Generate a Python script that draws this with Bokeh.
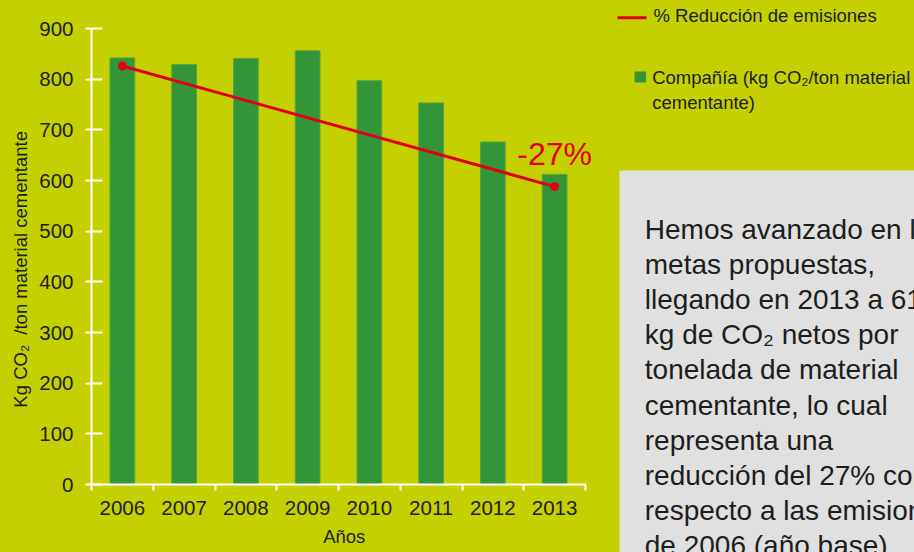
from bokeh.plotting import figure
from bokeh.models import Range1d, FixedTicker, Label, ColumnDataSource
from bokeh.layouts import row
from bokeh.embed import file_html
from bokeh.resources import INLINE
from bokeh.core.properties import value

# ---------------- data ----------------
years = [2006, 2007, 2008, 2009, 2010, 2011, 2012, 2013]
emissions = [842, 829, 841, 856, 797, 753, 676, 612]
trend_years = [2006, 2013]
trend_values = [826, 588]
y_ticks = [0, 100, 200, 300, 400, 500, 600, 700, 800, 900]
reduction_label = "-27%"
legend_line_label = "% Reducción de emisiones"
legend_bar_label = ["Compañía (kg CO₂/ton material", "cementante)"]
note_lines = [
    "Hemos avanzado en las",
    "metas propuestas,",
    "llegando en 2013 a 612",
    "kg de CO₂ netos por",
    "tonelada de material",
    "cementante, lo cual",
    "representa una",
    "reducción del 27% con",
    "respecto a las emisiones",
    "de 2006 (año base).",
]
x_title = "Años"
y_title = "Kg CO₂\u00a0\u00a0/ton material cementante"

# ---------------- style ----------------
BG = "#c4d000"
GREEN = "#329639"
RED = "#e2001a"
GREY = "#e0e0e0"
INK = "#1d1d1b"
FONT = "Liberation Sans"
NBSP = "\u00a0"

W, H = 914, 552
LEFT_W = 612
RIGHT_W = W - LEFT_W

AXIS_X = 91
FRAME_TOP = 28
FRAME_BOTTOM = 484
CAT_PX = 61.75                       # pixels per year
frame_w = LEFT_W - AXIS_X

p = figure(
    width=LEFT_W, height=H, output_backend="svg", toolbar_location=None,
    x_range=Range1d(years[0] - 0.5, years[0] - 0.5 + frame_w / CAT_PX),
    y_range=Range1d(0, 900),
    min_border_left=AXIS_X, min_border_right=0,
    min_border_top=FRAME_TOP, min_border_bottom=H - FRAME_BOTTOM,
    background_fill_color=BG, border_fill_color=BG, outline_line_color=None,
)
p.frame_align = False
p.grid.visible = False

p.vbar(x=years, top=emissions, width=0.4, fill_color=GREEN,
       line_color="#58a43c", line_width=1)
p.line(trend_years, trend_values, line_color=RED, line_width=3)
p.scatter(trend_years, trend_values, size=8, fill_color=RED, line_color=RED)

# x axis: ticks between categories, labels at the years
xa = p.xaxis[0]
xa.ticker = FixedTicker(ticks=years,
                        minor_ticks=[y - 0.5 for y in years] + [years[-1] + 0.5])
xa.bounds = (years[0] - 0.5, years[-1] + 0.5)
xa.axis_line_color = "white"
xa.axis_line_width = 2
xa.major_tick_line_color = None
xa.major_tick_out = 6
xa.major_tick_in = 0
xa.minor_tick_line_color = "white"
xa.minor_tick_line_width = 2
xa.minor_tick_out = 6
xa.minor_tick_in = 0
xa.major_label_text_font = FONT
xa.major_label_text_font_size = "20.5px"
xa.major_label_text_color = INK
xa.major_label_standoff = 10
xa.axis_label = x_title + NBSP * 3
xa.axis_label_text_font = FONT
xa.axis_label_text_font_size = "18.5px"
xa.axis_label_text_font_style = "normal"
xa.axis_label_text_color = INK
xa.axis_label_standoff = 8

# y axis
ya = p.yaxis[0]
ya.ticker = FixedTicker(ticks=y_ticks)
ya.axis_line_color = "white"
ya.axis_line_width = 2
ya.major_tick_line_color = "white"
ya.major_tick_line_width = 2
ya.major_tick_out = 6
ya.major_tick_in = 11
ya.minor_tick_line_color = None
ya.major_label_text_font = FONT
ya.major_label_text_font_size = "20.5px"
ya.major_label_text_color = INK
ya.major_label_standoff = 12
ya.axis_label = y_title + NBSP * 5
ya.axis_label_text_font = FONT
ya.axis_label_text_font_size = "18.5px"
ya.axis_label_text_font_style = "normal"
ya.axis_label_text_color = INK
ya.axis_label_standoff = 5

# reduction annotation
p.add_layout(Label(x=years[-1], y=652, text=reduction_label,
                   text_align="center", text_baseline="middle",
                   text_font=FONT, text_font_size="32px", text_color=RED))

# ---------------- right panel: legend + note ----------------
q = figure(
    width=RIGHT_W, height=H, output_backend="svg", toolbar_location=None,
    x_range=Range1d(0, RIGHT_W), y_range=Range1d(H, 0),
    x_axis_type=None, y_axis_type=None,
    min_border=0, background_fill_color=BG, border_fill_color=BG,
    outline_line_color=None,
)
q.frame_align = False
q.title.visible = False
q.grid.visible = False


def rx(px):
    return px - LEFT_W


# legend keys
q.segment(x0=[rx(617)], y0=[17.3], x1=[rx(646)], y1=[17.3],
          line_color=RED, line_width=3)
q.rect(x=[rx(639.8)], y=[76.5], width=11.5, height=11,
       fill_color=GREEN, line_color=None)
q.text(x=[rx(653)], y=[15], text=[legend_line_label], text_font=value(FONT),
       text_font_size="18.5px", text_color=INK, text_baseline="middle")
q.text(x=[rx(651.7)] * 2, y=[76.6, 101.6], text=legend_bar_label,
       text_font=value(FONT), text_font_size="18.5px", text_color=INK,
       text_baseline="middle")

# note box
q.quad(left=[rx(619)], right=[RIGHT_W + 10], top=[170], bottom=[H + 10],
       fill_color=GREY, line_color=None)
note_src = ColumnDataSource(dict(
    x=[rx(644.3)] * len(note_lines),
    y=[228.5 + 35.2 * i for i in range(len(note_lines))],
    text=note_lines,
))
q.text(x="x", y="y", text="text", source=note_src, text_font=value(FONT),
       text_font_size="28px", text_color=INK, text_baseline="middle")

layout = row(p, q, spacing=0)

page_style = """
{% block preamble %}
<style>html, body { background: #c4d000; }</style>
{% endblock %}
"""
open("out.html", "w").write(file_html(layout, INLINE, template=page_style))
